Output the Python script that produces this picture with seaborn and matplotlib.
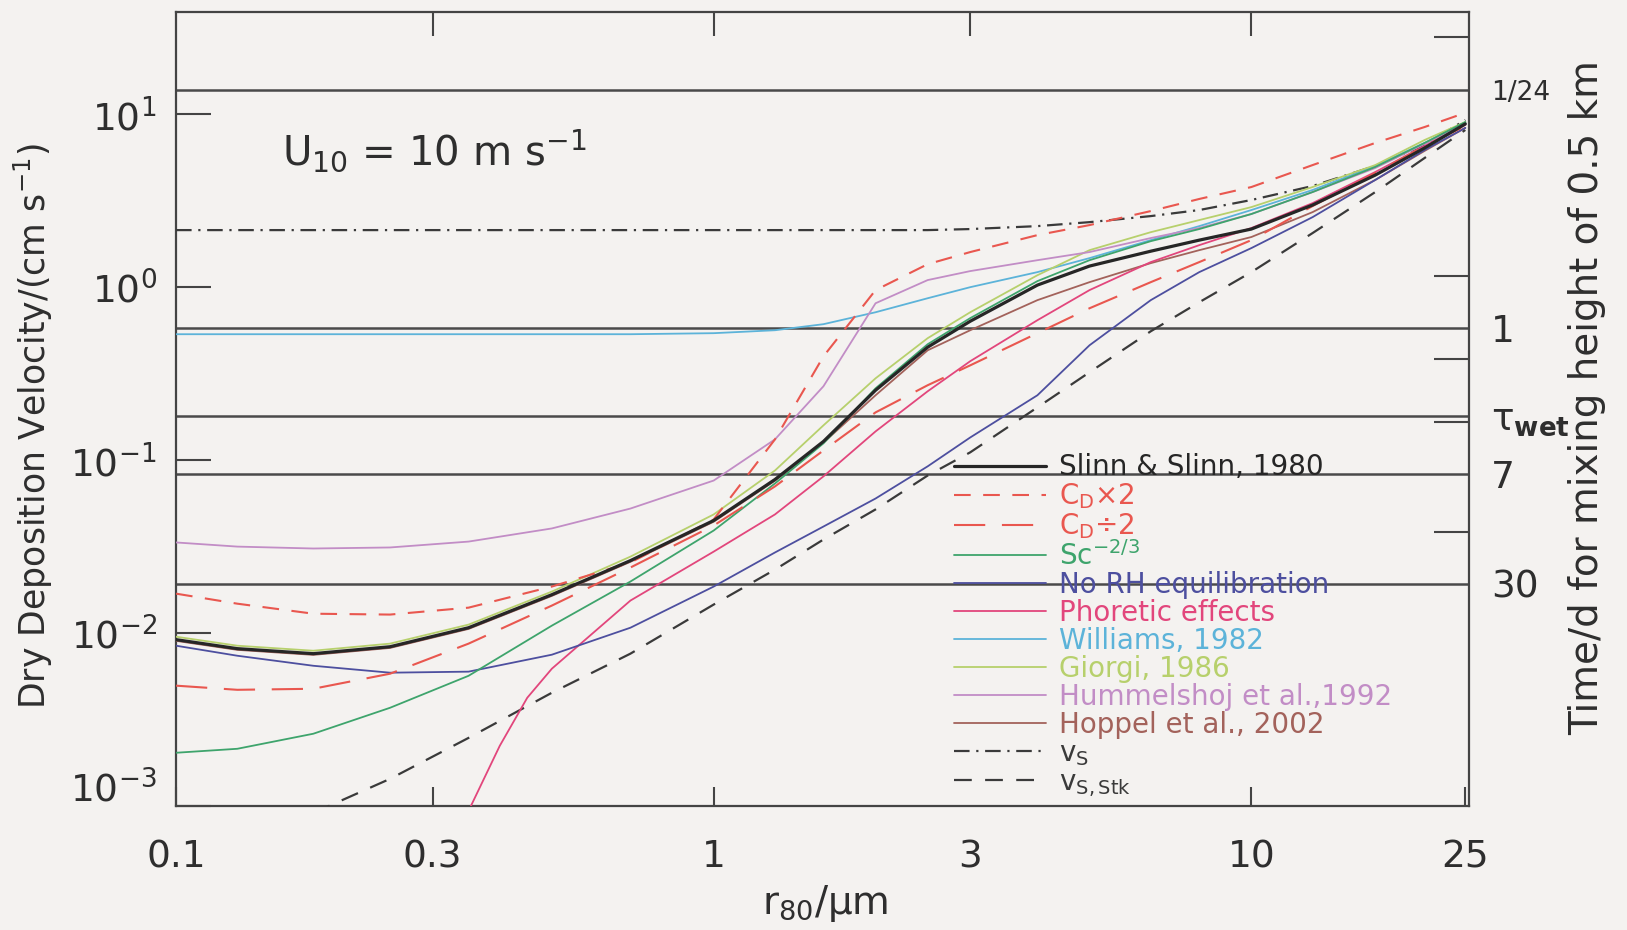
import numpy as np
import matplotlib
matplotlib.use("Agg")
import matplotlib.pyplot as plt
import matplotlib.transforms as mtransforms
from matplotlib.ticker import FixedLocator, NullLocator, FixedFormatter, NullFormatter
import seaborn as sns

# ---------------- data ----------------
# dry-particle radius at 80 % RH, um
r80_um = [0.1, 0.13, 0.18, 0.25, 0.35, 0.5, 0.7, 1.0, 1.3, 1.6, 2.0, 2.5, 3,
          4, 5, 6.5, 8, 10, 13, 17, 21, 25]
# log10 of dry deposition velocity (cm/s) on the r80_um grid
log_vd_slinn = [-2.038, -2.090, -2.119, -2.079, -1.969, -1.778, -1.581, -1.349, -1.112, -0.892, -0.596,
                -0.347, -0.197, 0.012, 0.122, 0.208, 0.272, 0.336, 0.475, 0.648, 0.805, 0.944]
log_vd_cd_x2 = [-1.772, -1.830, -1.888, -1.893, -1.853, -1.731, -1.592, -1.343, -0.880, -0.400, -0.017,
                0.133, 0.203, 0.301, 0.359, 0.440, 0.510, 0.579, 0.706, 0.834, 0.926, 1.008]
log_vd_cd_div2 = [-2.304, -2.328, -2.322, -2.235, -2.061, -1.841, -1.621, -1.378, -1.152, -0.944, -0.724,
                  -0.567, -0.452, -0.266, -0.122, 0.029, 0.145, 0.272, 0.469, 0.660, 0.816, 0.932]
log_vd_sc = [-2.692, -2.669, -2.582, -2.432, -2.247, -1.957, -1.702, -1.407, -1.135, -0.903, -0.585,
             -0.330, -0.179, 0.035, 0.156, 0.266, 0.336, 0.423, 0.550, 0.695, 0.834, 0.955]
log_vd_norh = [-2.073, -2.131, -2.189, -2.229, -2.223, -2.125, -1.969, -1.731, -1.534, -1.384, -1.222,
               -1.036, -0.869, -0.625, -0.336, -0.075, 0.087, 0.226, 0.405, 0.620, 0.793, 0.921]
log_vd_williams = [-0.272, -0.272, -0.272, -0.272, -0.272, -0.272, -0.272, -0.266, -0.249, -0.214, -0.145,
                   -0.064, 0.000, 0.087, 0.168, 0.272, 0.353, 0.446, 0.562, 0.701, 0.834, 0.950]
log_vd_giorgi = [-2.021, -2.073, -2.102, -2.061, -1.951, -1.760, -1.558, -1.314, -1.060, -0.799, -0.527,
                 -0.295, -0.145, 0.069, 0.214, 0.318, 0.388, 0.463, 0.579, 0.706, 0.851, 0.955]
log_vd_hummel = [-1.476, -1.500, -1.511, -1.505, -1.471, -1.395, -1.280, -1.118, -0.880, -0.573, -0.093,
                 0.041, 0.093, 0.156, 0.203, 0.284, 0.342, 0.423, 0.550, 0.689, 0.828, 0.944]
log_vd_hoppel = [-2.045, -2.097, -2.126, -2.086, -1.976, -1.785, -1.588, -1.356, -1.119, -0.899, -0.625,
                 -0.365, -0.249, -0.075, 0.029, 0.139, 0.214, 0.290, 0.434, 0.620, 0.788, 0.921]
log_vs = [0.330, 0.330, 0.330, 0.330, 0.330, 0.330, 0.330, 0.330, 0.330, 0.330, 0.330,
          0.330, 0.336, 0.353, 0.376, 0.411, 0.446, 0.504, 0.585, 0.701, 0.822, 0.967]

r80_phor_um = [0.3, 0.35, 0.4, 0.45, 0.5, 0.7, 1.0, 1.3, 1.6, 2.0, 2.5, 3, 4, 5, 6.5, 8, 10, 13, 17, 21, 25]
log_vd_phor = [-3.601, -3.028, -2.652, -2.374, -2.206, -1.812, -1.529, -1.314, -1.094, -0.834, -0.602,
               -0.428, -0.191, -0.017, 0.145, 0.243, 0.342, 0.486, 0.666, 0.816, 0.938]

r80_stk_um = [0.18, 0.25, 0.35, 0.5, 0.7, 1.0, 1.3, 1.6, 2.0, 2.5, 3, 4, 5, 6.5, 8, 10, 13, 17, 21, 25]
log_vs_stk = [-3.040, -2.843, -2.606, -2.345, -2.119, -1.835, -1.633, -1.459, -1.285, -1.089, -0.955,
              -0.695, -0.492, -0.255, -0.087, 0.087, 0.313, 0.550, 0.747, 0.909]

# right axis: time (days) to deplete a 0.5 km mixed layer
mixing_height_cm = 50000.0
time_lines_d = [1 / 24, 1, 3.2, 7, 30]
time_line_labels = ["1/24", "1", r"$\tau_{\mathbf{wet}}$", "7", "30"]
time_minor_d = [1 / 48, 0.5, 1.5, 3.5, 15]

x_ticks = [0.1, 0.3, 1, 3, 10, 25]
x_tick_labels = ["0.1", "0.3", "1", "3", "10", "25"]
y_ticks = [1e-3, 1e-2, 1e-1, 1, 10]
y_tick_labels = [r"$10^{-3}$", r"$10^{-2}$", r"$10^{-1}$", r"$10^{0}$", r"$10^{1}$"]

# ---------------- styling ----------------
sns.set_theme(style="ticks")
plt.rcParams["font.family"] = ["DejaVu Sans"]
plt.rcParams["mathtext.default"] = "regular"
BG = "#f4f2f0"
FG = "#2e2e2e"

fig = plt.figure(figsize=(16.27, 9.30), dpi=100, facecolor=BG)
ax = fig.add_axes([0.1082, 0.1333, 0.7947, 0.8538])
ax.set_facecolor(BG)
ax.set_xscale("log")
ax.set_yscale("log")
ax.set_xlim(0.1, 25.4)
ax.set_ylim(1e-3, 39)

# horizontal lines for depletion times
for t in time_lines_d:
    ax.axhline(mixing_height_cm / (t * 86400.0), color="#4a4a4a", lw=1.8, zorder=1)

curves = [
    ("vs", r"$v_{S}$", r80_um, log_vs, "#3a3a3a", (0, (7, 3, 1, 3)), 1.6),
    ("vsstk", r"$v_{S,Stk}$", r80_stk_um, log_vs_stk, "#3a3a3a", (0, (8, 6)), 1.6),
    ("williams", "Williams, 1982", r80_um, log_vd_williams, "#5cb3d9", "-", 1.3),
    ("giorgi", "Giorgi, 1986", r80_um, log_vd_giorgi, "#b7d06c", "-", 1.3),
    ("hummel", "Hummelshoj et al.,1992", r80_um, log_vd_hummel, "#c28dc6", "-", 1.3),
    ("hoppel", "Hoppel et al., 2002", r80_um, log_vd_hoppel, "#a3625b", "-", 1.3),
    ("phor", "Phoretic effects", r80_phor_um, log_vd_phor, "#e2467c", "-", 1.3),
    ("norh", "No RH equilibration", r80_um, log_vd_norh, "#4d4f9f", "-", 1.3),
    ("sc", r"$Sc^{-2/3}$", r80_um, log_vd_sc, "#3ea46c", "-", 1.3),
    ("cd2", r"$C_{D}$×2", r80_um, log_vd_cd_x2, "#e9574f", (0, (8, 6)), 1.5),
    ("cdhalf", r"$C_{D}$÷2", r80_um, log_vd_cd_div2, "#e9574f", (0, (15, 8)), 1.5),
    ("slinn", "Slinn & Slinn, 1980", r80_um, log_vd_slinn, "#262626", "-", 2.3),
]

handles = {}
for key, lab, xs, lys, col, ls, lw in curves:
    n0 = len(ax.lines)
    sns.lineplot(x=np.asarray(xs, float), y=10.0 ** np.asarray(lys, float), ax=ax,
                 color=col, linestyle=ls, lw=lw, sort=False, estimator=None, zorder=3)
    handles[key] = (ax.lines[n0], lab, col)

# ---------------- axes, ticks ----------------
for sp in ax.spines.values():
    sp.set_color("#444444")
    sp.set_linewidth(1.6)

ax.xaxis.set_major_locator(FixedLocator(x_ticks))
ax.xaxis.set_major_formatter(FixedFormatter(x_tick_labels))
ax.xaxis.set_minor_locator(NullLocator())
ax.yaxis.set_major_locator(FixedLocator(y_ticks))
ax.yaxis.set_major_formatter(FixedFormatter(y_tick_labels))
ax.yaxis.set_minor_locator(NullLocator())
ax.tick_params(axis="x", direction="in", length=14, width=1.5, colors="#444444",
               labelcolor=FG, labelsize=27, pad=24)
ax.tick_params(axis="y", direction="in", length=25, width=1.5, colors="#444444",
               labelcolor=FG, labelsize=27, pad=14, right=False)
xt = ax.xaxis.get_major_ticks()
xt[3].tick1line.set_visible(False)
# nudge the 10^-3 label upward as in the original
lab3 = ax.yaxis.get_major_ticks()[0].label1
lab3.set_transform(lab3.get_transform() + mtransforms.ScaledTranslation(0, 14 / 72, fig.dpi_scale_trans))

top = ax.secondary_xaxis("top")
top.xaxis.set_major_locator(FixedLocator([0.3, 1, 3, 10]))
top.xaxis.set_major_formatter(NullFormatter())
top.xaxis.set_minor_locator(NullLocator())
top.tick_params(direction="in", length=17, width=1.5, colors="#444444")
top.spines["top"].set_visible(False)

ax2 = ax.twinx()
ax2.set_yscale("log")
ax2.set_ylim(ax.get_ylim())
ax2.yaxis.set_major_locator(FixedLocator([mixing_height_cm / (t * 86400.0) for t in time_lines_d]))
ax2.yaxis.set_major_formatter(FixedFormatter(time_line_labels))
ax2.yaxis.set_minor_locator(FixedLocator([mixing_height_cm / (t * 86400.0) for t in time_minor_d]))
ax2.yaxis.set_minor_formatter(NullFormatter())
ax2.tick_params(axis="y", which="major", length=0, labelsize=27, labelcolor=FG, pad=16)
ax2.tick_params(axis="y", which="minor", direction="in", length=25, width=1.5, colors="#444444")
for sp in ax2.spines.values():
    sp.set_visible(False)
for tl in ax2.get_yticklabels():
    if tl.get_text() == "1/24":
        tl.set_fontsize(19)

# ---------------- labels ----------------
ax.set_xlabel(r"$r_{80}$/μm", fontsize=28, color=FG)
ax.xaxis.set_label_coords(0.502, -0.097)
ax.set_ylabel(r"Dry Deposition Velocity/(cm s$^{-1}$)", fontsize=25, color=FG)
ax.yaxis.set_label_coords(-0.094, 0.479)
ax2.set_ylabel("Time/d for mixing height of 0.5 km", fontsize=28, color=FG, rotation=90)
ax2.yaxis.set_label_coords(1.077, 0.515)

ax.text(0.082, 0.825, r"$U_{10}$ = 10 m s$^{-1}$", transform=ax.transAxes,
        fontsize=29, color=FG, va="center", ha="left")

# ---------------- legend ----------------
order = ["slinn", "cd2", "cdhalf", "sc", "norh", "phor", "williams", "giorgi", "hummel", "hoppel", "vs", "vsstk"]
leg = ax.legend([handles[k][0] for k in order], [handles[k][1] for k in order],
                loc="upper left", bbox_to_anchor=(0.602, 0.444), frameon=False,
                fontsize=20, handlelength=3.3, handletextpad=0.45, labelspacing=0.0,
                borderpad=0.0, borderaxespad=0.0)
for txt, k in zip(leg.get_texts(), order):
    txt.set_color(handles[k][2])
leg.set_zorder(5)

fig.savefig("out.png", dpi=100, facecolor=BG)
